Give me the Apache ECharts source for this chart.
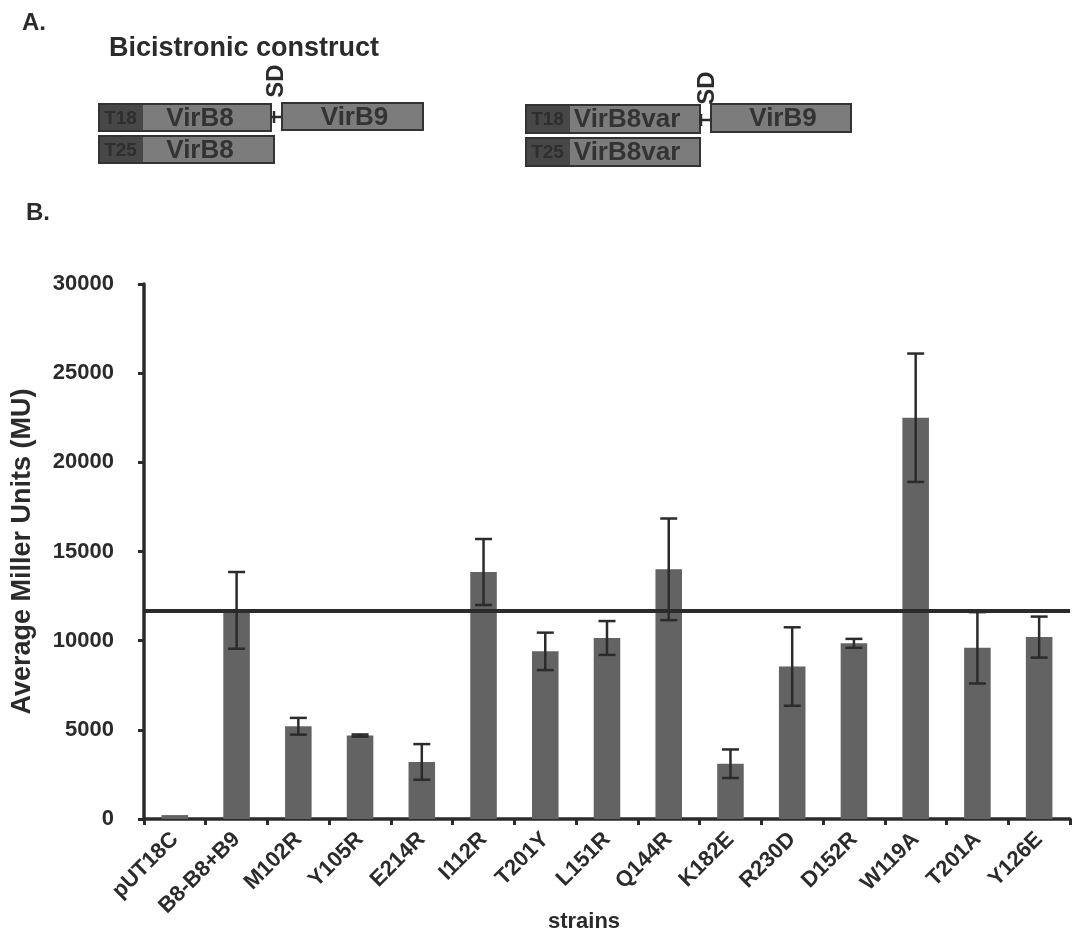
<!DOCTYPE html>
<html>
<head>
<meta charset="utf-8">
<script src="https://cdn.jsdelivr.net/npm/echarts@6/dist/echarts.min.js"></script>
<style>
html,body{margin:0;padding:0;background:#ffffff;}
#chart{width:1072px;height:934px;}
</style>
</head>
<body>
<div id="chart"></div>
<script>
// ---- data ----
const strains = ['pUT18C','B8-B8+B9','M102R','Y105R','E214R','I112R','T201Y','L151R','Q144R','K182E','R230D','D152R','W119A','T201A','Y126E'];
const meanMU  = [220, 11700, 5200, 4680, 3200, 13850, 9400, 10150, 14000, 3100, 8550, 9850, 22500, 9600, 10200];
const errorMU = [0, 2150, 470, 60, 1000, 1850, 1050, 950, 2850, 800, 2200, 250, 3600, 2000, 1150];
const referenceMU = 11700;
const yMin = 0, yMax = 30000, yStep = 5000;
const xAxisTitle = 'strains';
const yAxisTitle = 'Average Miller Units (MU)';

// ---- styles ----
const FONT = '"Liberation Sans", Arial, Helvetica, sans-serif';
const INK = '#2b2b2b';
const BAR = '#636363';
const BOX = '#7c7c7c';
const BOXDARK = '#474747';

const errData = meanMU.map((m, i) => [i, m - errorMU[i], m + errorMU[i]]);

// ---- construct diagram (panel A), decorative graphics ----
function geneRow(x0, x1, y, h, tag, name, nameX) {
  return [
    {type:'rect', shape:{x:x0, y:y, width:x1-x0, height:h}, style:{fill:BOX, stroke:'#333333', lineWidth:2}},
    {type:'rect', shape:{x:x0+1, y:y+1, width:43, height:h-2}, style:{fill:BOXDARK}},
    {type:'text', x:x0+21.5, y:y+h/2+1, style:{text:tag, font:'bold 19px '+FONT, fill:'#2e2e2e', align:'center', verticalAlign:'middle'}},
    {type:'text', x:nameX, y:y+h/2+1, style:{text:name, font:'bold 26px '+FONT, fill:'#333333', align:'center', verticalAlign:'middle'}}
  ];
}
function plainBox(x0, x1, y, h, name) {
  return [
    {type:'rect', shape:{x:x0, y:y, width:x1-x0, height:h}, style:{fill:BOX, stroke:'#333333', lineWidth:2}},
    {type:'text', x:(x0+x1)/2+2, y:y+h/2+1, style:{text:name, font:'bold 26px '+FONT, fill:'#333333', align:'center', verticalAlign:'middle'}}
  ];
}
function connector(xv, xa, xb, y) {
  return [
    {type:'line', shape:{x1:xa, y1:y, x2:xb, y2:y}, style:{stroke:'#2b2b2b', lineWidth:2.5}},
    {type:'line', shape:{x1:xv, y1:y-6, x2:xv, y2:y+6}, style:{stroke:'#2b2b2b', lineWidth:2.5}}
  ];
}
function sdLabel(x, y) {
  return {type:'text', x:x, y:y, rotation:Math.PI/2, style:{text:'SD', font:'bold 24px '+FONT, fill:INK, align:'center', verticalAlign:'middle'}};
}

const graphics = [].concat(
  [{type:'text', x:22, y:23, style:{text:'A.', font:'bold 24px '+FONT, fill:INK, verticalAlign:'middle'}}],
  [{type:'text', x:109, y:49, style:{text:'Bicistronic construct', font:'bold 27px '+FONT, fill:INK, verticalAlign:'middle'}}],
  geneRow(99, 271, 104, 27, 'T18', 'VirB8', 200),
  connector(274, 271, 283, 117),
  plainBox(282, 423, 103, 27, 'VirB9'),
  [sdLabel(276, 81)],
  geneRow(99, 274, 136, 27, 'T25', 'VirB8', 200),
  geneRow(526, 700, 105, 28, 'T18', 'VirB8var', 627),
  connector(701, 700, 712, 120),
  plainBox(711, 851, 104, 28, 'VirB9'),
  [sdLabel(707, 88)],
  geneRow(526, 700, 138, 28, 'T25', 'VirB8var', 627),
  [{type:'text', x:26, y:213, style:{text:'B.', font:'bold 24px '+FONT, fill:INK, verticalAlign:'middle'}}]
);

const chart = echarts.init(document.getElementById('chart'), null, {renderer:'canvas'});
chart.setOption({
  animation:false,
  backgroundColor:'#ffffff',
  textStyle:{fontFamily:FONT},
  graphic:graphics,
  grid:{left:144, right:2, top:284, bottom:115, containLabel:false, outerBoundsMode:'none'},
  xAxis:{
    type:'category',
    data:strains,
    name:xAxisTitle,
    nameLocation:'middle',
    nameGap:92,
    nameMoveOverlap:false,
    nameTextStyle:{fontFamily:FONT, fontWeight:'bold', fontSize:22, color:INK, padding:[0,46,0,0]},
    axisLine:{lineStyle:{color:INK, width:3.5}},
    axisTick:{show:true, length:6, lineStyle:{color:INK, width:3}},
    axisLabel:{rotate:45, margin:17, interval:0, fontFamily:FONT, fontWeight:'bold', fontSize:22, color:INK},
    splitLine:{show:false}
  },
  yAxis:{
    type:'value',
    min:yMin, max:yMax, interval:yStep,
    name:yAxisTitle,
    nameLocation:'middle',
    nameGap:108,
    nameMoveOverlap:false,
    nameRotate:90,
    nameTextStyle:{fontFamily:FONT, fontWeight:'bold', fontSize:27, color:INK},
    axisLine:{show:true, lineStyle:{color:INK, width:3.5}},
    axisTick:{show:true, length:6, lineStyle:{color:INK, width:3}},
    axisLabel:{margin:30, fontFamily:FONT, fontWeight:'bold', fontSize:22, color:INK, formatter:function(v){return String(v);}},
    splitLine:{show:false}
  },
  series:[
    {
      type:'bar',
      data:meanMU,
      barWidth:'43%',
      itemStyle:{color:BAR},
      silent:true,
      markLine:{
        silent:true,
        symbol:'none',
        label:{show:false},
        lineStyle:{color:INK, width:4, type:'solid'},
        data:[{yAxis:referenceMU}]
      }
    },
    {
      type:'custom',
      silent:true,
      data:errData,
      encode:{x:0, y:[1,2]},
      z:5,
      renderItem:function(params, api){
        const i = api.value(0);
        if (api.value(2) - api.value(1) <= 0) return null;
        const lo = api.coord([i, api.value(1)]);
        const hi = api.coord([i, api.value(2)]);
        const half = 8.5;
        const st = {stroke:INK, lineWidth:2.5};
        return {type:'group', children:[
          {type:'line', shape:{x1:hi[0], y1:hi[1], x2:lo[0], y2:lo[1]}, style:st},
          {type:'line', shape:{x1:hi[0]-half, y1:hi[1], x2:hi[0]+half, y2:hi[1]}, style:st},
          {type:'line', shape:{x1:lo[0]-half, y1:lo[1], x2:lo[0]+half, y2:lo[1]}, style:st}
        ]};
      }
    }
  ]
});
</script>
</body>
</html>
